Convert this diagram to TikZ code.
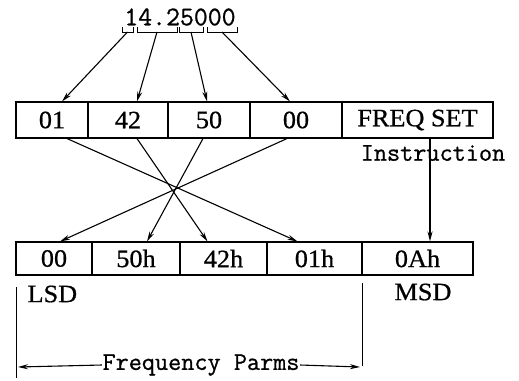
\documentclass[tikz,border=0pt]{standalone}
\usepackage{fontspec}
\setmainfont{Liberation Serif}[FakeStretch=1.05,FakeBold=0.7]
\setmonofont{Latin Modern Mono}[FakeBold=0.8]
\usetikzlibrary{arrows.meta}
\begin{document}
\begin{tikzpicture}[x=1pt,y=-1pt,line width=1.1pt,
  txt/.style={font=\fontsize{25}{27}\selectfont,inner sep=0pt},
  tt/.style={font=\fontsize{25.5}{27}\selectfont\ttfamily,inner sep=0pt},
  cell/.style={draw,txt,anchor=center},
  topcell/.style={cell,minimum height=36pt},
  botcell/.style={cell,minimum height=33pt},
  arr/.style={-{Stealth[length=10pt,width=5pt]}},
  brk/.style={line width=1pt}]
\useasboundingbox[fill=white] (0,0) rectangle (519,380);
% number
\node[tt,font=\fontsize{27}{28}\selectfont\ttfamily] (num) at (180,17) {14.25000};
% brackets
\coordinate (k1) at (127.5,32);
\coordinate (k2) at (157,32);
\coordinate (k3) at (191,32);
\coordinate (k4) at (222,32);
\draw[brk] (122,27) -- (122,32) -- (133,32) -- (133,27);
\draw[brk] (137,27) -- (137,32) -- (177,32) -- (177,27);
\draw[brk] (179,27) -- (179,32) -- (203,32) -- (203,27);
\draw[brk] (207,27) -- (207,32) -- (237,32) -- (237,27);
% top row
\node[topcell,minimum width=72pt] (t1) at (52,120) {01};
\node[topcell,minimum width=80pt] (t2) at (128,120) {42};
\node[topcell,minimum width=82pt] (t3) at (209,120) {50};
\node[topcell,minimum width=92pt] (t4) at (296,120) {00};
\node[topcell,minimum width=151pt] (t5) at (417.5,120) {FREQ SET};
% bottom row
\node[botcell,minimum width=76pt] (b1) at (54,258.5) {00};
\node[botcell,minimum width=88pt] (b2) at (136,258.5) {50h};
\node[botcell,minimum width=87pt] (b3) at (223.5,258.5) {42h};
\node[botcell,minimum width=95pt] (b4) at (314.5,258.5) {01h};
\node[botcell,minimum width=111pt] (b5) at (417.5,258.5) {0Ah};
% bracket arrows
\draw[arr] (k1) -- ([xshift=10pt]t1.north);
\draw[arr] (k2) -- ([xshift=9pt]t2.north);
\draw[arr] (k3) -- ([xshift=-2pt]t3.north);
\draw[arr] (k4) -- ([xshift=-6pt]t4.north);
% crossing arrows
\draw[arr] ([xshift=15pt]t1.south) -- ([xshift=-17pt]b4.north);
\draw[arr] ([xshift=9pt]t2.south) -- ([xshift=-16pt]b3.north);
\draw[arr] ([xshift=-6pt]t3.south) -- ([xshift=11pt]b2.north);
\draw[arr] ([xshift=-9pt]t4.south) -- ([xshift=6pt]b1.north);
% instruction
\node[tt] (ins) at (433,153) {Instruction};
\draw[arr] ([xshift=12.5pt]t5.south) -- ([xshift=12.5pt]b5.north);
% LSD / MSD
\node[txt,anchor=west] (lsd) at (27,294) {LSD};
\node[txt] (msd) at (423,292) {MSD};
\coordinate (l1) at (16,287);
\coordinate (l2) at (16,378);
\coordinate (r1) at (362,283);
\coordinate (r2) at (362,366);
\draw[line width=1pt] (l1) -- (l2);
\draw[line width=1pt] (r1) -- (r2);
\node[tt] (fp) at (201,365) {Frequency Parms};
\coordinate (fl) at (18,367);
\coordinate (fr) at (360,367);
\draw[arr] (fp.west) -- (fl);
\draw[arr] (fp.east) -- (fr);
\end{tikzpicture}
\end{document}
